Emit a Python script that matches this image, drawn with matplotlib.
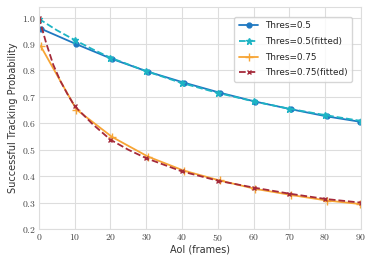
import numpy as np
import matplotlib
matplotlib.use('Agg')
import matplotlib.pyplot as plt
import seaborn as sns

# AoI values (frames)
aoi_raw = [0.5, 10.5, 20.5, 30.5, 40.5, 50.5, 60.5, 70.5, 80.5, 89.7]
thr50_raw = [0.958, 0.899, 0.843, 0.795, 0.754, 0.716, 0.682, 0.653, 0.626, 0.606]
thr75_raw = [0.892, 0.652, 0.548, 0.474, 0.421, 0.384, 0.352, 0.329, 0.308, 0.295]

aoi_fit50 = [0, 5, 10, 15, 20, 30, 40, 50, 60, 70, 80, 90]
thr50_fit = [0.995, 0.952, 0.915, 0.880, 0.848, 0.797, 0.752, 0.715, 0.683, 0.655, 0.631, 0.609]

aoi_fit75 = [0, 2, 4, 6, 8, 10, 15, 20, 25, 30, 40, 50, 60, 70, 80, 90]
thr75_fit = [1.0, 0.905, 0.822, 0.760, 0.710, 0.665, 0.597, 0.538, 0.500, 0.468,
             0.418, 0.383, 0.357, 0.334, 0.314, 0.300]

sns.set_style('whitegrid')
plt.rcParams['font.family'] = ['DejaVu Sans']
plt.rcParams['mathtext.fontset'] = 'cm'

fig = plt.figure(figsize=(3.74, 2.67), dpi=100)
ax = fig.add_axes([0.104, 0.142, 0.861, 0.832])

ax.plot(aoi_raw, thr50_raw, '-o', color='#1f78c1', lw=1.3, ms=3.5, label='Thres=0.5')
idx50 = [i for i, x in enumerate(aoi_fit50) if x % 10 == 0]
ax.plot(aoi_fit50, thr50_fit, '--*', color='#1eb4c4', lw=1.3, ms=4.5, markevery=idx50,
        label='Thres=0.5(fitted)')
ax.plot(aoi_raw, thr75_raw, '-+', color='#f7a535', lw=1.3, ms=6, label='Thres=0.75')
idx75 = [i for i, x in enumerate(aoi_fit75) if x % 10 == 0]
ax.plot(aoi_fit75, thr75_fit, '--x', color='#a52a3a', lw=1.3, ms=3.5, markevery=idx75,
        label='Thres=0.75(fitted)')

ax.set_xlim(0, 90)
ax.set_ylim(0.2, 1.04)
ax.set_xticks(range(0, 91, 10))
ax.set_yticks(np.arange(0.2, 1.01, 0.1))
ax.set_xticklabels([r'$%d$' % v for v in range(0, 91, 10)])
ax.set_yticklabels([r'$%.1f$' % v for v in np.arange(0.2, 1.01, 0.1)])
ax.tick_params(labelsize=7, pad=2, colors='#444444', length=0)
ax.set_xlabel('AoI (frames)', fontsize=7, labelpad=1, color='#333333')
ax.set_ylabel('Successful Tracking Probability', fontsize=7, labelpad=3, color='#333333')
for s in ax.spines.values():
    s.set_color('#dddddd')
ax.grid(color='#dddddd', lw=0.8)

leg = ax.legend(loc='upper right', fontsize=6.4, frameon=True, handlelength=2.2,
                borderpad=0.5, labelspacing=0.75, handletextpad=0.7,
                bbox_to_anchor=(0.985, 0.975))
leg.get_frame().set_edgecolor('#cccccc')

fig.savefig('out.png', dpi=100)
